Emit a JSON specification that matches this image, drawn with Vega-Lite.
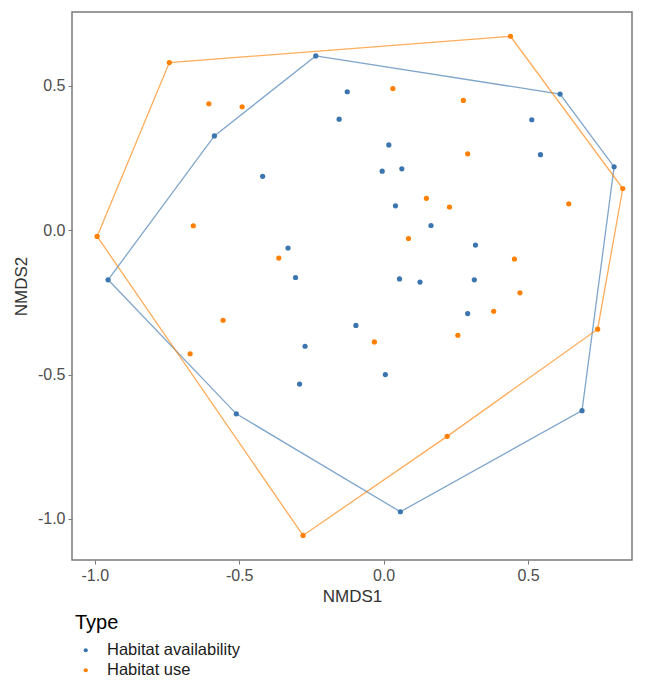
{
  "$schema": "https://vega.github.io/schema/vega-lite/v6.json",
  "width": 560,
  "height": 548,
  "autosize": {"type": "none"},
  "padding": {"left": 72, "top": 12, "right": 14, "bottom": 122},
  "background": "white",
  "config": {
    "font": "Liberation Sans",
    "view": {"stroke": "#7a7a7a", "strokeWidth": 1.5},
    "axis": {
      "grid": false,
      "domain": false,
      "tickColor": "#7a7a7a",
      "tickSize": 4,
      "labelFontSize": 16,
      "labelColor": "#4d4d4d",
      "labelPadding": 3,
      "titleFontSize": 17,
      "titleFontWeight": "normal",
      "titleColor": "#333333"
    }
  },
  "datasets": {
    "points": [
      {"x": -0.742, "y": 0.580, "Type": "Habitat use"},
      {"x": -0.235, "y": 0.603, "Type": "Habitat availability"},
      {"x": -0.605, "y": 0.437, "Type": "Habitat use"},
      {"x": -0.490, "y": 0.427, "Type": "Habitat use"},
      {"x": -0.586, "y": 0.326, "Type": "Habitat availability"},
      {"x": -0.126, "y": 0.479, "Type": "Habitat availability"},
      {"x": -0.154, "y": 0.384, "Type": "Habitat availability"},
      {"x": -0.419, "y": 0.186, "Type": "Habitat availability"},
      {"x": -0.992, "y": -0.022, "Type": "Habitat use"},
      {"x": -0.659, "y": 0.015, "Type": "Habitat use"},
      {"x": -0.331, "y": -0.062, "Type": "Habitat availability"},
      {"x": -0.363, "y": -0.097, "Type": "Habitat use"},
      {"x": -0.305, "y": -0.164, "Type": "Habitat availability"},
      {"x": -0.954, "y": -0.172, "Type": "Habitat availability"},
      {"x": 0.439, "y": 0.671, "Type": "Habitat use"},
      {"x": 0.611, "y": 0.471, "Type": "Habitat availability"},
      {"x": 0.032, "y": 0.490, "Type": "Habitat use"},
      {"x": 0.276, "y": 0.449, "Type": "Habitat use"},
      {"x": 0.513, "y": 0.382, "Type": "Habitat availability"},
      {"x": 0.018, "y": 0.295, "Type": "Habitat availability"},
      {"x": 0.291, "y": 0.264, "Type": "Habitat use"},
      {"x": 0.543, "y": 0.261, "Type": "Habitat availability"},
      {"x": 0.798, "y": 0.219, "Type": "Habitat availability"},
      {"x": 0.828, "y": 0.144, "Type": "Habitat use"},
      {"x": -0.005, "y": 0.204, "Type": "Habitat availability"},
      {"x": 0.063, "y": 0.212, "Type": "Habitat availability"},
      {"x": 0.148, "y": 0.110, "Type": "Habitat use"},
      {"x": 0.228, "y": 0.080, "Type": "Habitat use"},
      {"x": 0.641, "y": 0.091, "Type": "Habitat use"},
      {"x": 0.041, "y": 0.084, "Type": "Habitat availability"},
      {"x": 0.164, "y": 0.016, "Type": "Habitat availability"},
      {"x": 0.086, "y": -0.029, "Type": "Habitat use"},
      {"x": 0.318, "y": -0.052, "Type": "Habitat availability"},
      {"x": 0.453, "y": -0.100, "Type": "Habitat use"},
      {"x": 0.055, "y": -0.169, "Type": "Habitat availability"},
      {"x": 0.126, "y": -0.180, "Type": "Habitat availability"},
      {"x": 0.314, "y": -0.172, "Type": "Habitat availability"},
      {"x": 0.472, "y": -0.217, "Type": "Habitat use"},
      {"x": 0.291, "y": -0.289, "Type": "Habitat availability"},
      {"x": 0.381, "y": -0.281, "Type": "Habitat use"},
      {"x": -0.096, "y": -0.330, "Type": "Habitat availability"},
      {"x": -0.032, "y": -0.387, "Type": "Habitat use"},
      {"x": 0.257, "y": -0.364, "Type": "Habitat use"},
      {"x": 0.741, "y": -0.343, "Type": "Habitat use"},
      {"x": 0.006, "y": -0.500, "Type": "Habitat availability"},
      {"x": 0.687, "y": -0.625, "Type": "Habitat availability"},
      {"x": 0.220, "y": -0.714, "Type": "Habitat use"},
      {"x": 0.058, "y": -0.975, "Type": "Habitat availability"},
      {"x": -0.556, "y": -0.312, "Type": "Habitat use"},
      {"x": -0.670, "y": -0.428, "Type": "Habitat use"},
      {"x": -0.272, "y": -0.402, "Type": "Habitat availability"},
      {"x": -0.291, "y": -0.533, "Type": "Habitat availability"},
      {"x": -0.510, "y": -0.636, "Type": "Habitat availability"},
      {"x": -0.279, "y": -1.057, "Type": "Habitat use"}
    ],
    "hulls": [
      {"x": -0.954, "y": -0.172, "Type": "Habitat availability", "o": 1},
      {"x": -0.586, "y": 0.326, "Type": "Habitat availability", "o": 2},
      {"x": -0.235, "y": 0.603, "Type": "Habitat availability", "o": 3},
      {"x": 0.611, "y": 0.471, "Type": "Habitat availability", "o": 4},
      {"x": 0.798, "y": 0.219, "Type": "Habitat availability", "o": 5},
      {"x": 0.687, "y": -0.625, "Type": "Habitat availability", "o": 6},
      {"x": 0.058, "y": -0.975, "Type": "Habitat availability", "o": 7},
      {"x": -0.510, "y": -0.636, "Type": "Habitat availability", "o": 8},
      {"x": -0.954, "y": -0.172, "Type": "Habitat availability", "o": 9},
      {"x": -0.992, "y": -0.022, "Type": "Habitat use", "o": 1},
      {"x": -0.742, "y": 0.580, "Type": "Habitat use", "o": 2},
      {"x": 0.439, "y": 0.671, "Type": "Habitat use", "o": 3},
      {"x": 0.828, "y": 0.144, "Type": "Habitat use", "o": 4},
      {"x": 0.741, "y": -0.343, "Type": "Habitat use", "o": 5},
      {"x": 0.220, "y": -0.714, "Type": "Habitat use", "o": 6},
      {"x": -0.279, "y": -1.057, "Type": "Habitat use", "o": 7},
      {"x": -0.992, "y": -0.022, "Type": "Habitat use", "o": 8}
    ]
  },
  "encoding": {
    "x": {"field": "x", "type": "quantitative", "title": "NMDS1", "scale": {"domain": [-1.079, 0.86], "nice": false, "zero": false}, "axis": {"values": [-1, -0.5, 0, 0.5], "labelExpr": "replace(format(datum.value, '.1f'), '\u2212', '-')", "titlePadding": 5}},
    "y": {"field": "y", "type": "quantitative", "title": "NMDS2", "scale": {"domain": [-1.142, 0.755], "nice": false, "zero": false}, "axis": {"values": [-1, -0.5, 0, 0.5], "labelExpr": "replace(format(datum.value, '.1f'), '\u2212', '-')", "titlePadding": 7}}
  },
  "layer": [
    {
      "data": {"name": "hulls"},
      "transform": [{"filter": "datum.Type === 'Habitat availability'"}],
      "mark": {"type": "line", "strokeWidth": 1.3, "opacity": 0.65, "color": "#3B75AF"},
      "encoding": {
        "order": {"field": "o", "type": "quantitative"}
      }
    },
    {
      "data": {"name": "hulls"},
      "transform": [{"filter": "datum.Type === 'Habitat use'"}],
      "mark": {"type": "line", "strokeWidth": 1.3, "opacity": 0.65, "color": "#FF8000"},
      "encoding": {
        "order": {"field": "o", "type": "quantitative"}
      }
    },
    {
      "data": {"name": "points"},
      "mark": {"type": "circle", "size": 27, "opacity": 1},
      "encoding": {
        "color": {
          "field": "Type", "type": "nominal", "title": "Type",
          "scale": {"domain": ["Habitat availability", "Habitat use"], "range": ["#3B75AF", "#FF8000"]},
          "legend": {
            "orient": "none", "legendX": 3, "legendY": 601,
            "direction": "vertical",
            "titleFontSize": 20, "titleFontWeight": "normal", "titleColor": "#000000",
            "titlePadding": 9,
            "labelFontSize": 16.5, "labelColor": "#1a1a1a",
            "symbolSize": 18, "symbolType": "circle", "symbolOffset": 2.5,
            "labelOffset": 13, "rowPadding": 3
          }
        }
      }
    }
  ]
}
